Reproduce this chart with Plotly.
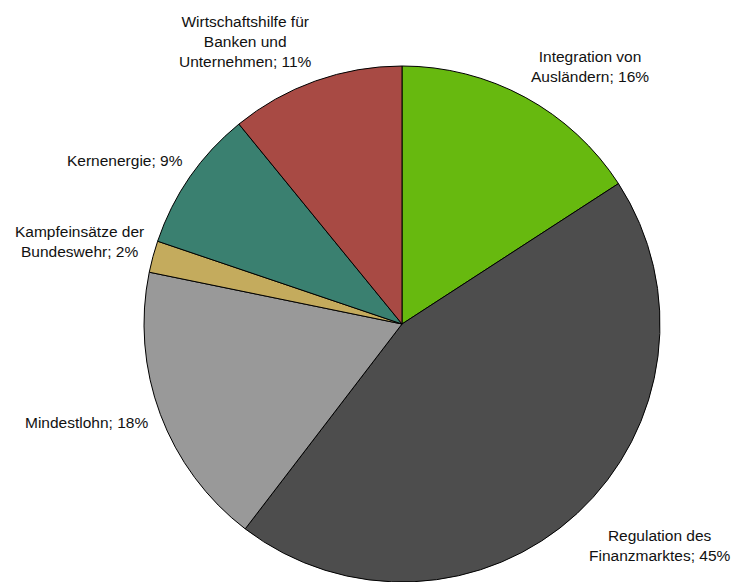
import plotly.graph_objects as go

# Slice data, clockwise from 12 o'clock
labels = [
    "Integration von<br>Ausländern",
    "Regulation des<br>Finanzmarktes",
    "Mindestlohn",
    "Kampfeinsätze der<br>Bundeswehr",
    "Kernenergie",
    "Wirtschaftshilfe für<br>Banken und<br>Unternehmen",
]
values = [16, 45, 18, 2, 9, 11]
colors = ["#67B90F", "#4D4D4D", "#999999", "#C4AB5D", "#3A8070", "#A84A44"]

# Label centres in pixels (x from left, y from top)
label_px = [(590, 66), (659, 545), (86, 422), (79, 241), (125, 160), (245, 42)]

W, H = 731, 582

fig = go.Figure(
    go.Pie(
        labels=[l.replace("<br>", " ") for l in labels],
        values=values,
        sort=False,
        direction="clockwise",
        rotation=0,
        marker=dict(colors=colors, line=dict(color="#000000", width=1)),
        textposition="none",
        hoverinfo="label+percent",
        showlegend=False,
        domain=dict(x=[143 / W, 661 / W], y=[0, 516 / H]),
    )
)

annotations = []
for lab, val, (px, py) in zip(labels, values, label_px):
    annotations.append(
        dict(
            text=f"{lab}; {val}%",
            x=px / W,
            y=1 - py / H,
            xref="paper",
            yref="paper",
            xanchor="center",
            yanchor="middle",
            align="center",
            showarrow=False,
            font=dict(family="Liberation Sans, Arial, sans-serif", size=15.5, color="#111111"),
        )
    )

fig.update_layout(
    width=W,
    height=H,
    margin=dict(l=0, r=0, t=0, b=0),
    paper_bgcolor="#FFFFFF",
    plot_bgcolor="#FFFFFF",
    annotations=annotations,
)

fig.write_html("out.html")
